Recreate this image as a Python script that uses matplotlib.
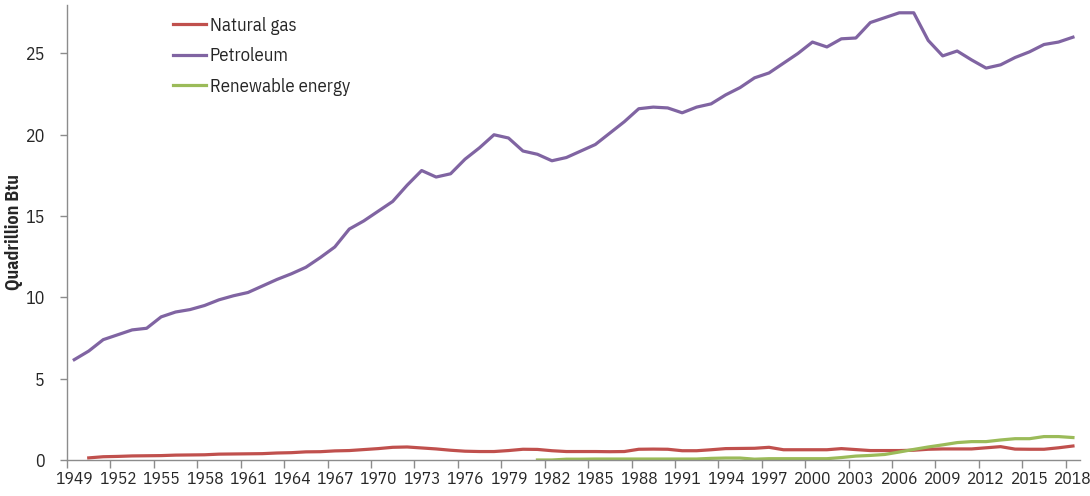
import matplotlib
matplotlib.use('Agg')
import matplotlib.pyplot as plt
import numpy as np

plt.rcParams['font.family'] = ['IBM Plex Sans Condensed', 'DejaVu Sans']

# data (quadrillion Btu)
years = list(range(1949, 2019))
petroleum = [6.17, 6.7, 7.4, 7.7, 8.0, 8.1, 8.8, 9.1, 9.25, 9.5,
             9.85, 10.1, 10.3, 10.7, 11.1, 11.45, 11.85, 12.45, 13.1, 14.2,
             14.7, 15.3, 15.9, 16.9, 17.8, 17.4, 17.6, 18.5, 19.2, 20.0,
             19.8, 19.0, 18.8, 18.4, 18.6, 19.0, 19.4, 20.1, 20.8, 21.6,
             21.7, 21.65, 21.35, 21.7, 21.9, 22.45, 22.9, 23.5, 23.8, 24.4,
             25.0, 25.7, 25.4, 25.9, 25.95, 26.9, 27.2, 27.5, 27.5, 25.8,
             24.85, 25.15, 24.6, 24.1, 24.3, 24.75, 25.1, 25.55, 25.7, 26.0]

gas_years = list(range(1950, 2019))
natural_gas = [0.13, 0.2, 0.22, 0.25, 0.26, 0.27, 0.3, 0.31, 0.32, 0.36,
               0.37, 0.38, 0.39, 0.43, 0.45, 0.5, 0.51, 0.56, 0.58, 0.64,
               0.7, 0.78, 0.8, 0.74, 0.68, 0.6, 0.54, 0.52, 0.52, 0.58,
               0.66, 0.65, 0.57, 0.52, 0.52, 0.52, 0.51, 0.52, 0.66, 0.67,
               0.66, 0.57, 0.57, 0.63, 0.7, 0.71, 0.72, 0.78, 0.63, 0.63,
               0.63, 0.63, 0.7, 0.64, 0.58, 0.58, 0.58, 0.6, 0.66, 0.68,
               0.68, 0.68, 0.75, 0.82, 0.67, 0.66, 0.66, 0.75, 0.86]

ren_years = list(range(1981, 2019))
renewable = [0.0, 0.0, 0.05, 0.05, 0.06, 0.06, 0.06, 0.06, 0.06, 0.06,
             0.06, 0.06, 0.1, 0.12, 0.12, 0.05, 0.08, 0.08, 0.08, 0.08,
             0.08, 0.15, 0.24, 0.28, 0.34, 0.49, 0.65, 0.8, 0.93, 1.07,
             1.13, 1.13, 1.23, 1.31, 1.31, 1.44, 1.44, 1.38]

red = '#C0504D'
purple = '#8064A2'
green = '#9BBB59'
axis_col = '#8C8C8C'
txt = '#262626'

fig = plt.figure(figsize=(10.9, 4.96), dpi=100)
ax = fig.add_axes([0.0615, 0.0726, 0.9295, 0.918])

ax.plot(gas_years, natural_gas, color=red, lw=2.3, label='Natural gas')
ax.plot(years, petroleum, color=purple, lw=2.3, label='Petroleum')
ax.plot(ren_years, renewable, color=green, lw=2.3, label='Renewable energy')

ax.set_xlim(1948.5, 2018.5)
ax.set_ylim(0, 28)

for s in ['top', 'right']:
    ax.spines[s].set_visible(False)
for s in ['left', 'bottom']:
    ax.spines[s].set_color(axis_col)
    ax.spines[s].set_linewidth(1.0)

ax.set_yticks([0, 5, 10, 15, 20, 25])
ax.tick_params(axis='y', direction='out', length=5, width=1, color=axis_col,
               pad=11, labelsize=13, labelcolor=txt)

ax.set_xticks(years[::3])
ax.set_xticks(np.array(years[::3]) - 0.5, minor=True)
ax.tick_params(axis='x', which='major', length=0, pad=8, labelsize=12.5,
               labelcolor=txt)
ax.tick_params(axis='x', which='minor', direction='out', length=6, width=1,
               color=axis_col)

ax.set_ylabel('Quadrillion Btu', fontsize=13, fontweight='bold', color=txt,
              labelpad=2)

ax.legend(loc='upper left', bbox_to_anchor=(0.088, 1.01), frameon=False,
          fontsize=13.5, handlelength=1.75, handletextpad=0.2,
          labelspacing=0.66, labelcolor=txt)

fig.savefig('out.png', dpi=100)
